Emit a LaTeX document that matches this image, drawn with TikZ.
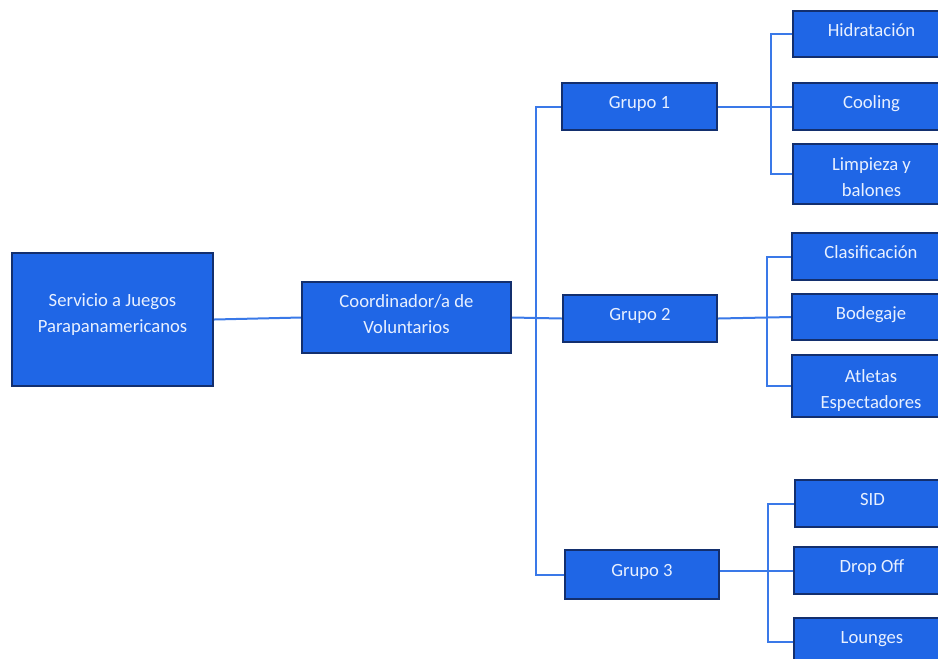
\documentclass[tikz,border=0pt]{standalone}
\usepackage{fontspec}
\setmainfont{Carlito}
\definecolor{boxfill}{HTML}{1F66E6}
\definecolor{boxedge}{HTML}{132F6E}
\definecolor{linec}{HTML}{3A79E8}
\definecolor{txt}{HTML}{E8F0FF}
\newcommand{\downstrut}[1]{\rule{0pt}{#1}}
\begin{document}
\begin{tikzpicture}[x=0.75pt,y=-0.75pt,
  bx/.style 2 args={draw=boxedge, line width=1.6pt, fill=boxfill, text=txt,
     minimum width=#1, minimum height=#2, inner sep=0pt, align=center,
     font=\fontsize{14}{19.5}\selectfont},
  txtup/.style={execute at end node={\rule[-#1]{0pt}{0pt}}},
  conn/.style={draw=linec, line width=1.5pt}]
\useasboundingbox (0,0) rectangle (938,658);
% nodes
\node[bx={150.75pt}{99.75pt}, txtup=10pt] (serv) at (112.5,319.5) {Servicio a Juegos\\Parapanamericanos};
\node[bx={156.75pt}{53.25pt}, txtup=5pt] (coord) at (406.5,317.5) {Coordinador/a de\\Voluntarios};
\node[bx={116.25pt}{35.25pt}, txtup=6pt] (g1) at (639.5,106.5) {Grupo 1};
\node[bx={115.5pt}{35.25pt}, txtup=6pt] (g2) at (640,318.5) {Grupo 2};
\node[bx={115.5pt}{36.75pt}, txtup=6pt] (g3) at (642,574.5) {Grupo 3};
\node[bx={117.75pt}{34.5pt}, txtup=6pt] (hid) at (871.5,34) {Hidratación};
\node[bx={117.75pt}{35.25pt}, txtup=6.5pt] (cool) at (871.5,106.5) {Cooling};
\node[bx={117.75pt}{45pt}] (limp) at (871.5,174) {\downstrut{15pt}Limpieza y\\balones};
\node[bx={118.5pt}{35.25pt}, txtup=6pt] (clas) at (871,256.5) {Clasificación};
\node[bx={118.5pt}{34.5pt}, txtup=6pt] (bod) at (871,317) {Bodegaje};
\node[bx={118.5pt}{46.5pt}] (atl) at (871,386) {\downstrut{16pt}Atletas\\Espectadores};
\node[bx={116.25pt}{35.25pt}, txtup=6pt] (sid) at (872.5,503.5) {SID};
\node[bx={117pt}{35.25pt}, txtup=6pt] (drop) at (872,570.5) {Drop Off};
\node[bx={117pt}{35.25pt}, txtup=6pt] (lou) at (872,641.5) {Lounges};
% trunk coordinates
\coordinate (t0) at (536,340);
\coordinate (b1) at (771,100);
\coordinate (b2) at (767,320);
\coordinate (b3) at (768,570);
% connectors
\draw[conn] (serv.east) -- (coord.west);
\draw[conn] (coord.east) -- (g2.west);
\draw[conn] (g1.west) -| (t0) |- (g3.west);
\draw[conn] (g1.east) -- (cool.west);
\draw[conn] (hid.west) -| (b1) |- (limp.west);
\draw[conn] (g2.east) -- (bod.west);
\draw[conn] (clas.west) -| (b2) |- (atl.west);
\draw[conn] ([yshift=3pt]g3.east) -- (drop.west);
\draw[conn] (sid.west) -| (b3) |- (lou.west);
\end{tikzpicture}
\end{document}
